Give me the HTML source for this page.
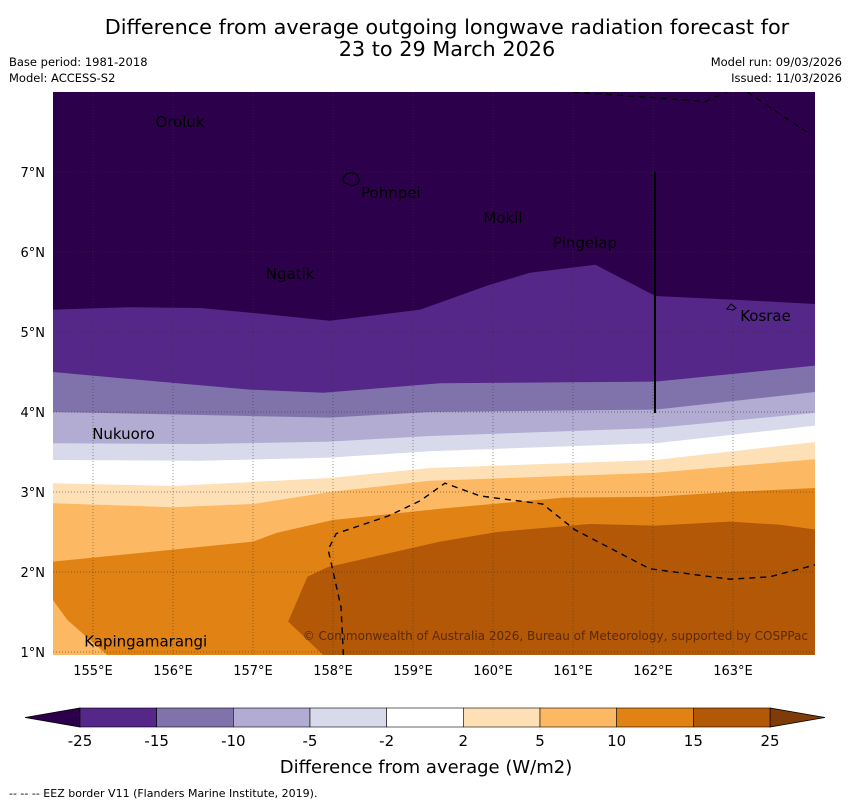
<!DOCTYPE html>
<html><head><meta charset="utf-8"><style>
body{margin:0;background:#fff;width:850px;height:804px;overflow:hidden;font-family:"DejaVu Sans","Liberation Sans",sans-serif}
svg{position:absolute;left:0;top:0}
</style></head><body>
<svg id="chart" width="850" height="804">
<text x="447" y="34" text-anchor="middle" font-size="20.8">Difference from average outgoing longwave radiation forecast for</text>
<text x="447" y="56" text-anchor="middle" font-size="20.8">23 to 29 March 2026</text>
<text x="9" y="66" font-size="11.5">Base period: 1981-2018</text>
<text x="9" y="82" font-size="11.5">Model: ACCESS-S2</text>
<text x="842" y="66" font-size="11.5" text-anchor="end">Model run: 09/03/2026</text>
<text x="842" y="82" font-size="11.5" text-anchor="end">Issued: 11/03/2026</text>
<g id="map"></g>
<g id="cbar"></g>
<text x="426" y="773" text-anchor="middle" font-size="18">Difference from average (W/m2)</text>
<text x="9" y="797" font-size="11">--  --  -- EEZ border V11 (Flanders Marine Institute, 2019).</text>
</svg>
<script>
const levels=[-25,-15,-10,-5,-2,2,5,10,15,25];
const colors=["#2d004b","#542788","#8073ac","#b2abd2","#d8daeb","#ffffff","#fee0b6","#fdb863","#e08214","#b35806","#7f3b08"];
const lonTicks=[155,156,157,158,159,160,161,162,163];
const latTicks=[1,2,3,4,5,6,7];
// contour boundaries (lon, lat); region below each gets the next colour
const b1Lon=[154.5,155.46,156.34,157.09,157.96,159.09,159.96,160.46,161.28,162.03,163.09,164.03];
const b1Lat=[5.28,5.31,5.3,5.23,5.14,5.28,5.59,5.74,5.84,5.45,5.4,5.35];
const b2Lon=[154.5,155.71,156.96,157.88,159.34,162.03,164.03];
const b2Lat=[4.5,4.39,4.28,4.24,4.36,4.38,4.58];
const b3Lon=[154.5,156.96,157.96,159.21,162.03,164.03];
const b3Lat=[4.0,3.95,3.93,4.0,4.03,4.25];
const b4Lon=[154.5,156.34,157.96,159.21,162.03,164.03];
const b4Lat=[3.61,3.6,3.63,3.7,3.8,3.99];
const b5Lon=[154.5,156.34,157.96,159.21,162.03,164.03];
const b5Lat=[3.4,3.39,3.43,3.51,3.61,3.83];
const b6Lon=[154.5,156,157.96,159.21,162.03,164.03];
const b6Lat=[3.11,3.075,3.175,3.3,3.4,3.625];
const b7Lon=[154.5,156,157,157.96,159.21,162.03,164.03];
const b7Lat=[2.86,2.81,2.85,3.0,3.14,3.24,3.41];
const b8Lon=[154.5,157,157.3,158,159.34,160.88,162.03,162.96,164.03];
const b8Lat=[2.13,2.38,2.49,2.65,2.79,2.93,2.94,3.0,3.05];
const patchLon=[154.5,154.68,155.18,154.5];
const patchLat=[1.65,1.4,0.96,0.96];
const b9Lon=[157.44,157.68,157.93,159.34,160.05,161.21,162.03,162.96,163.59,164.03,164.03,157.88];
const b9Lat=[1.38,1.94,2.06,2.38,2.5,2.6,2.58,2.63,2.59,2.53,0.96,0.96];
const eez1Lon=[158.13,158.1,157.94,158.04,158.69,159.09,159.4,159.84,160.62,161.02,161.96,162.96,163.46,164.03];
const eez1Lat=[0.96,1.56,2.28,2.48,2.7,2.89,3.11,2.95,2.85,2.53,2.04,1.91,1.94,2.09];
const eez2Lon=[161.0,162.0,162.65,162.92];
const eez2Lat=[8.0,7.93,7.88,8.0];
const eez3Lon=[163.18,163.98];
const eez3Lat=[8.0,7.46];
const places=["Oroluk","Pohnpei","Mokil","Pingelap","Ngatik","Kosrae","Nukuoro","Kapingamarangi"];
const placeLon=[155.78,158.35,159.88,160.75,157.16,163.09,154.99,154.89];
const placeLat=[7.56,6.675,6.36,6.05,5.66,5.14,3.66,1.07];

const X0=53,X1=815,Y0=92,Y1=655;
const xs=lon=>X0+(lon-154.5)*80;
const ys=lat=>Y0+(8-lat)*80;
const NS="http://www.w3.org/2000/svg";
function mk(tag,attrs,parent){const e=document.createElementNS(NS,tag);for(const k in attrs)e.setAttribute(k,attrs[k]);parent.appendChild(e);return e;}
const map=document.getElementById('map');
const clip=mk('clipPath',{id:'mc'},map);mk('rect',{x:X0,y:Y0,width:X1-X0,height:Y1-Y0},clip);
const g=mk('g',{'clip-path':'url(#mc)'},map);
let r=mk('rect',{x:X0,y:Y0,width:X1-X0,height:Y1-Y0,fill:colors[0]},g);


const bounds=[[b1Lon,b1Lat],[b2Lon,b2Lat],[b3Lon,b3Lat],[b4Lon,b4Lat],[b5Lon,b5Lat],[b6Lon,b6Lat],[b7Lon,b7Lat],[b8Lon,b8Lat]];
const bandNames=['band-minus25-minus15','band-minus15-minus10','band-minus10-minus5','band-minus5-minus2','band-minus2-2','band-2-5','band-5-10','band-10-15'];
bounds.forEach((b,i)=>{
  let pts=b[0].map((lo,j)=>xs(lo)+','+ys(b[1][j]));
  pts.push(xs(b[0][b[0].length-1])+','+(Y1+5));pts.push(xs(b[0][0])+','+(Y1+5));
  const p=mk('polygon',{points:pts.join(' '),fill:colors[i+1]},g);
  
  
});
function poly(lons,lats,fill,name){
  const p=mk('polygon',{points:lons.map((lo,j)=>xs(lo)+','+ys(lats[j])).join(' '),fill:fill},g);
  
  
}
poly(patchLon,patchLat,colors[7],'band-5-10-south-patch');
poly(b9Lon,b9Lat,colors[9],'band-15-25');
// gridlines
lonTicks.forEach(lo=>{
  const l=mk('line',{x1:xs(lo),x2:xs(lo),y1:Y0,y2:Y1,stroke:'#333','stroke-width':0.7,'stroke-dasharray':'1,2',opacity:0.7},g);
  
  
  const t=mk('text',{x:xs(lo),y:675,'text-anchor':'middle','font-size':13},map);t.textContent=lo+'°E';
  
  
});
latTicks.forEach(la=>{
  const l=mk('line',{x1:X0,x2:X1,y1:ys(la),y2:ys(la),stroke:'#333','stroke-width':0.7,'stroke-dasharray':'1,2',opacity:0.7},g);
  
  
  const t=mk('text',{x:45,y:ys(la)+5,'text-anchor':'end','font-size':13},map);t.textContent=la+'°N';
  
  
});
// EEZ
[[eez1Lon,eez1Lat],[eez2Lon,eez2Lat],[eez3Lon,eez3Lat]].forEach(e=>{
  const l=mk('polyline',{points:e[0].map((lo,j)=>xs(lo)+','+ys(e[1][j])).join(' '),fill:'none',stroke:'#000','stroke-width':1.4,'stroke-dasharray':'6,5'},g);
  
  
});
let vl=mk('line',{x1:655,x2:655,y1:172,y2:413,stroke:'#000','stroke-width':2},g);


let ph=mk('path',{d:'M343,180 q1,-6 7,-7 q6,-1 8,4 q3,4 -1,7 q-5,3 -9,0 q-5,-1 -5,-4z',fill:'none',stroke:'#000','stroke-width':1.2},g);


let ks=mk('path',{d:'M727,309 l4,-5 l5,4 l-3,2z',fill:'none',stroke:'#000','stroke-width':1},g);


places.forEach((n,i)=>{
  const t=mk('text',{x:xs(placeLon[i]),y:ys(placeLat[i]),'font-size':15,fill:'#000'},g);t.textContent=n;
  
  
});
let cp=mk('text',{x:808,y:640,'text-anchor':'end','font-size':12,fill:'#5a2a05'},g);
cp.textContent='© Commonwealth of Australia 2026, Bureau of Meteorology, supported by COSPPac';


// colorbar
const cb=document.getElementById('cbar');
const CB0=80,CB1=770,CBY=708,CBH=19,seg=(CB1-CB0)/(levels.length-1);
let la=mk('polygon',{points:`${CB0},${CBY} ${CB0},${CBY+CBH} 25,${CBY+CBH/2}`,fill:colors[0],stroke:'#000','stroke-width':0.8},cb);


let ra=mk('polygon',{points:`${CB1},${CBY} ${CB1},${CBY+CBH} 825,${CBY+CBH/2}`,fill:colors[10],stroke:'#000','stroke-width':0.8},cb);


for(let i=0;i<levels.length-1;i++){
  const s=mk('rect',{x:CB0+i*seg,y:CBY,width:seg,height:CBH,fill:colors[i+1],stroke:'#000','stroke-width':0.6},cb);
  
  
}
levels.forEach((v,i)=>{
  const t=mk('text',{x:CB0+i*seg,y:746,'text-anchor':'middle','font-size':15},cb);t.textContent=v;
  
  
});
</script>
</body></html>
